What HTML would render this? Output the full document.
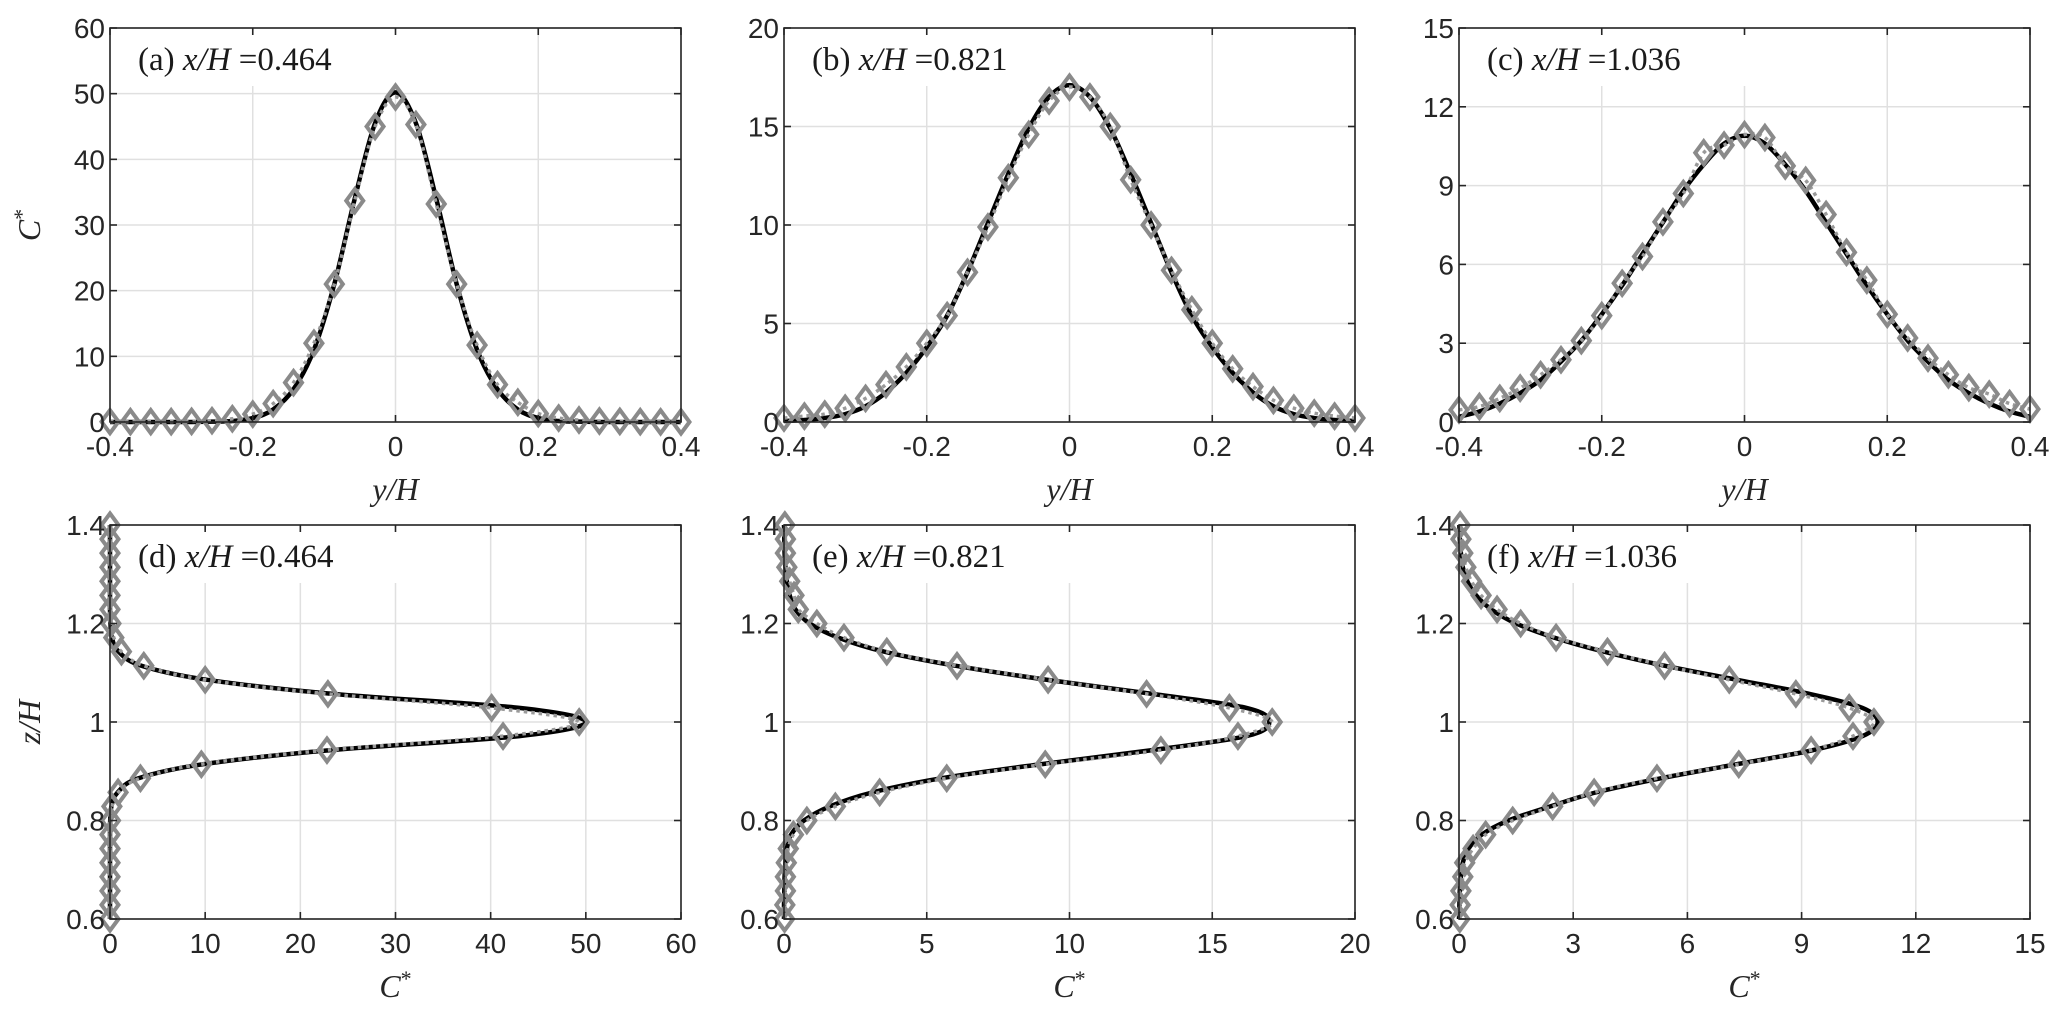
<!DOCTYPE html>
<html><head><meta charset="utf-8"><style>
html,body{margin:0;padding:0;background:#fff;}
svg{display:block;}
.tk{font-family:"Liberation Sans",sans-serif;font-size:28px;fill:#262626;}
.ttl{font-family:"Liberation Serif",serif;font-size:33px;fill:#1a1a1a;}
.lab{font-family:"Liberation Serif",serif;font-size:32px;fill:#262626;font-style:italic;}
</style></head><body>
<svg id="fig" width="2067" height="1012" viewBox="0 0 2067 1012" xmlns="http://www.w3.org/2000/svg"></svg>
<script>
// ---------- data ----------
const posGrid = [-0.4,-0.3714,-0.3429,-0.3143,-0.2857,-0.2571,-0.2286,-0.2,-0.1714,-0.1429,-0.1143,-0.0857,-0.0571,-0.0286,0,0.0286,0.0571,0.0857,0.1143,0.1429,0.1714,0.2,0.2286,0.2571,0.2857,0.3143,0.3429,0.3714,0.4];
const zGrid = [0.6,0.6286,0.6571,0.6857,0.7143,0.7429,0.7714,0.8,0.8286,0.8571,0.8857,0.9143,0.9429,0.9714,1.0,1.0286,1.0571,1.0857,1.1143,1.1429,1.1714,1.2,1.2286,1.2571,1.2857,1.3143,1.3429,1.3714,1.4];

const aMarkers = [0.05,0.05,0.05,0.05,0.1,0.2,0.5,1.2,2.8,6,12,21,33.7,45,49.5,45.3,33.2,21,11.7,5.7,3,1.3,0.6,0.3,0.15,0.1,0.05,0.02,0];
const aLine    = [0,0,0,0,0,0.05,0.15,0.6,1.9,5,11,21,34,45.5,50.2,45.5,34,21,11,5,1.9,0.6,0.15,0.05,0,0,0,0,0];
const bMarkers = [0.2,0.3,0.4,0.7,1.2,1.9,2.8,4,5.4,7.6,9.9,12.4,14.6,16.3,17,16.5,15,12.3,10,7.7,5.7,4,2.7,1.8,1.1,0.7,0.45,0.3,0.2];
const bLine    = [0.05,0.1,0.2,0.4,0.8,1.5,2.5,3.8,5.4,7.6,10.1,12.6,14.9,16.5,17.1,16.5,14.9,12.6,10.1,7.6,5.4,3.8,2.5,1.5,0.8,0.4,0.2,0.1,0.05];
const cMarkers = [0.46,0.59,0.9,1.29,1.8,2.37,3.1,4.05,5.28,6.3,7.62,8.7,10.25,10.54,10.94,10.83,9.75,9.2,7.9,6.46,5.4,4.1,3.2,2.43,1.8,1.31,1.06,0.7,0.49];
const cLine    = [0.2,0.4,0.7,1.1,1.6,2.3,3.1,4.1,5.2,6.4,7.6,8.8,9.8,10.6,10.9,10.6,9.8,8.8,7.6,6.4,5.2,4.1,3.1,2.3,1.6,1.1,0.7,0.4,0.2];
const dMarkers = [0,0,0,0,0,0,0,0.05,0.2,0.85,3.2,9.6,22.8,41.3,49.3,40.1,22.9,10,3.55,1.2,0.4,0.1,0,0,0,0,0,0,0];
const dLine    = [0,0,0,0,0,0,0,0.02,0.15,0.8,3,9.8,23.2,43,50,43,23.4,10.2,3.3,0.9,0.2,0.05,0,0,0,0,0,0,0];
const eMarkers = [0.02,0.03,0.05,0.05,0.08,0.15,0.33,0.8,1.8,3.35,5.7,9.15,13.2,15.9,17.1,15.6,12.7,9.25,6.06,3.6,2.1,1.15,0.5,0.35,0.2,0.1,0.05,0.05,0.03];
const eLine    = [0,0,0.01,0.02,0.05,0.1,0.25,0.7,1.6,3.1,5.5,9.0,12.9,16.2,17.0,16.2,12.9,9.2,6.0,3.5,1.9,0.9,0.4,0.2,0.1,0.05,0.02,0.01,0];
const fMarkers = [0.02,0.03,0.05,0.1,0.15,0.37,0.7,1.41,2.46,3.55,5.2,7.35,9.25,10.35,10.9,10.25,8.85,7.1,5.4,3.9,2.55,1.62,1.0,0.58,0.33,0.18,0.1,0.05,0.03];
const fLine    = [0,0.01,0.02,0.05,0.1,0.25,0.6,1.3,2.4,3.6,5.3,7.3,9.3,10.6,11.0,10.6,9.2,7.3,5.4,3.8,2.5,1.5,0.85,0.45,0.22,0.1,0.05,0.02,0.01];

const topYTicks = [[0,10,20,30,40,50,60],[0,5,10,15,20],[0,3,6,9,12,15]];
const topXTicks = [-0.4,-0.2,0,0.2,0.4];
const topXTickLabels = ["-0.4","-0.2","0","0.2","0.4"];
const botXTicks = [[0,10,20,30,40,50,60],[0,5,10,15,20],[0,3,6,9,12,15]];
const botYTicks = [0.6,0.8,1.0,1.2,1.4];
const botYTickLabels = ["0.6","0.8","1","1.2","1.4"];
const panelTitles = [["(a) ","0.464"],["(b) ","0.821"],["(c) ","1.036"],["(d) ","0.464"],["(e) ","0.821"],["(f) ","1.036"]];

// ---------- drawing ----------
const NS="http://www.w3.org/2000/svg";
const svg=document.getElementById('fig');
function mk(tag,attrs,parent){const e=document.createElementNS(NS,tag);for(const k in attrs)e.setAttribute(k,attrs[k]);(parent||svg).appendChild(e);return e;}
const L=[110,784,1459], T=[28,525], W=571, H=394;

function spline(pts){
  let d="M"+pts[0][0].toFixed(2)+","+pts[0][1].toFixed(2);
  for(let i=0;i<pts.length-1;i++){
    const p0=pts[Math.max(0,i-1)],p1=pts[i],p2=pts[i+1],p3=pts[Math.min(pts.length-1,i+2)];
    const c1=[p1[0]+(p2[0]-p0[0])/6,p1[1]+(p2[1]-p0[1])/6];
    const c2=[p2[0]-(p3[0]-p1[0])/6,p2[1]-(p3[1]-p1[1])/6];
    d+="C"+c1[0].toFixed(2)+","+c1[1].toFixed(2)+" "+c2[0].toFixed(2)+","+c2[1].toFixed(2)+" "+p2[0].toFixed(2)+","+p2[1].toFixed(2);
  }
  return d;
}

function panel(idx, row, col, xmin,xmax,ymin,ymax, xticks,xlabels, yticks,ylabels, xs, lineVals, markVals, vertical){
  const x0=L[col], y0=T[row];
  const sx=v=>x0+(v-xmin)/(xmax-xmin)*W;
  const sy=v=>y0+H-(v-ymin)/(ymax-ymin)*H;
  const g=mk('g',{});
  
  
  mk('rect',{x:x0,y:y0,width:W,height:H,fill:'#fff'},g);
  xticks.forEach(v=>{const gl=mk('line',{x1:sx(v),x2:sx(v),y1:y0,y2:y0+H,stroke:'#e0e0e0','stroke-width':1.5},g);});
  yticks.forEach(v=>{const gl=mk('line',{x1:x0,x2:x0+W,y1:sy(v),y2:sy(v),stroke:'#e0e0e0','stroke-width':1.5},g);});
  mk('rect',{x:x0+22,y:y0+2,width:265,height:56,fill:'#fff'},g);
  const t=mk('text',{x:x0+28,y:y0+42,class:'ttl'},g);
  
  
  const pt=panelTitles[idx];
  mk('tspan',{},t).textContent=pt[0];
  mk('tspan',{'font-style':'italic'},t).textContent='x/H';
  mk('tspan',{},t).textContent=' ='+pt[1];
  const linePts=xs.map((p,i)=>vertical?[sx(lineVals[i]),sy(p)]:[sx(p),sy(lineVals[i])]);
  const markPts=xs.map((p,i)=>vertical?[sx(markVals[i]),sy(p)]:[sx(p),sy(markVals[i])]);
  const cp=mk('clipPath',{id:'clip'+idx},g);
  mk('rect',{x:x0-15,y:y0-15,width:W+30,height:H+30},cp);
  const sg=mk('g',{'clip-path':'url(#clip'+idx+')'},g);
  const bl=mk('path',{d:spline(linePts),fill:'none',stroke:'#000','stroke-width':4.5},sg);
  
  
  const dl=mk('path',{d:spline(markPts),fill:'none',stroke:'#9a9a9a','stroke-width':3.5,'stroke-dasharray':'3.5 4'},sg);
  
  
  markPts.forEach(p=>{
    const m=mk('path',{d:`M${p[0]},${p[1]-11.5}L${p[0]+8.5},${p[1]}L${p[0]},${p[1]+11.5}L${p[0]-8.5},${p[1]}Z`,fill:'none',stroke:'#8a8a8a','stroke-width':4},sg);
    
    
  });
  const bx=mk('rect',{x:x0,y:y0,width:W,height:H,fill:'none',stroke:'#262626','stroke-width':1.6},g);
  
  
  xticks.forEach((v,i)=>{
    mk('line',{x1:sx(v),x2:sx(v),y1:y0+H,y2:y0+H-7,stroke:'#262626','stroke-width':1.6},g);
    mk('line',{x1:sx(v),x2:sx(v),y1:y0,y2:y0+7,stroke:'#262626','stroke-width':1.6},g);
    const tl=mk('text',{x:sx(v),y:y0+H+34,'text-anchor':'middle',class:'tk'},g);
    
    
    tl.textContent=xlabels[i];
  });
  yticks.forEach((v,i)=>{
    mk('line',{x1:x0,x2:x0+7,y1:sy(v),y2:sy(v),stroke:'#262626','stroke-width':1.6},g);
    mk('line',{x1:x0+W,x2:x0+W-7,y1:sy(v),y2:sy(v),stroke:'#262626','stroke-width':1.6},g);
    const tl=mk('text',{x:x0-5,y:sy(v)+10,'text-anchor':'end',class:'tk'},g);
    
    
    tl.textContent=ylabels[i];
  });
  const xl=mk('text',{x:x0+W/2,y:y0+H+78,'text-anchor':'middle',class:'lab'},g);
  
  
  if(vertical){ xl.textContent='C'; mk('tspan',{dy:-11,'font-size':'22px','font-style':'normal'},xl).textContent='*'; }
  else xl.textContent='y/H';
  if(col===0){
    const yl=mk('text',{x:0,y:0,'text-anchor':'middle',class:'lab',transform:`translate(${x0-70},${y0+H/2}) rotate(-90)`},g);
    
    
    if(vertical) yl.textContent='z/H';
    else { yl.textContent='C'; mk('tspan',{dy:-11,'font-size':'22px','font-style':'normal'},yl).textContent='*'; }
  }
}
const fmt=a=>a.map(String);
panel(0,0,0,-0.4,0.4,0,60,topXTicks,topXTickLabels,topYTicks[0],fmt(topYTicks[0]),posGrid,aLine,aMarkers,false);
panel(1,0,1,-0.4,0.4,0,20,topXTicks,topXTickLabels,topYTicks[1],fmt(topYTicks[1]),posGrid,bLine,bMarkers,false);
panel(2,0,2,-0.4,0.4,0,15,topXTicks,topXTickLabels,topYTicks[2],fmt(topYTicks[2]),posGrid,cLine,cMarkers,false);
panel(3,1,0,0,60,0.6,1.4,botXTicks[0],fmt(botXTicks[0]),botYTicks,botYTickLabels,zGrid,dLine,dMarkers,true);
panel(4,1,1,0,20,0.6,1.4,botXTicks[1],fmt(botXTicks[1]),botYTicks,botYTickLabels,zGrid,eLine,eMarkers,true);
panel(5,1,2,0,15,0.6,1.4,botXTicks[2],fmt(botXTicks[2]),botYTicks,botYTickLabels,zGrid,fLine,fMarkers,true);
</script>
</body></html>
